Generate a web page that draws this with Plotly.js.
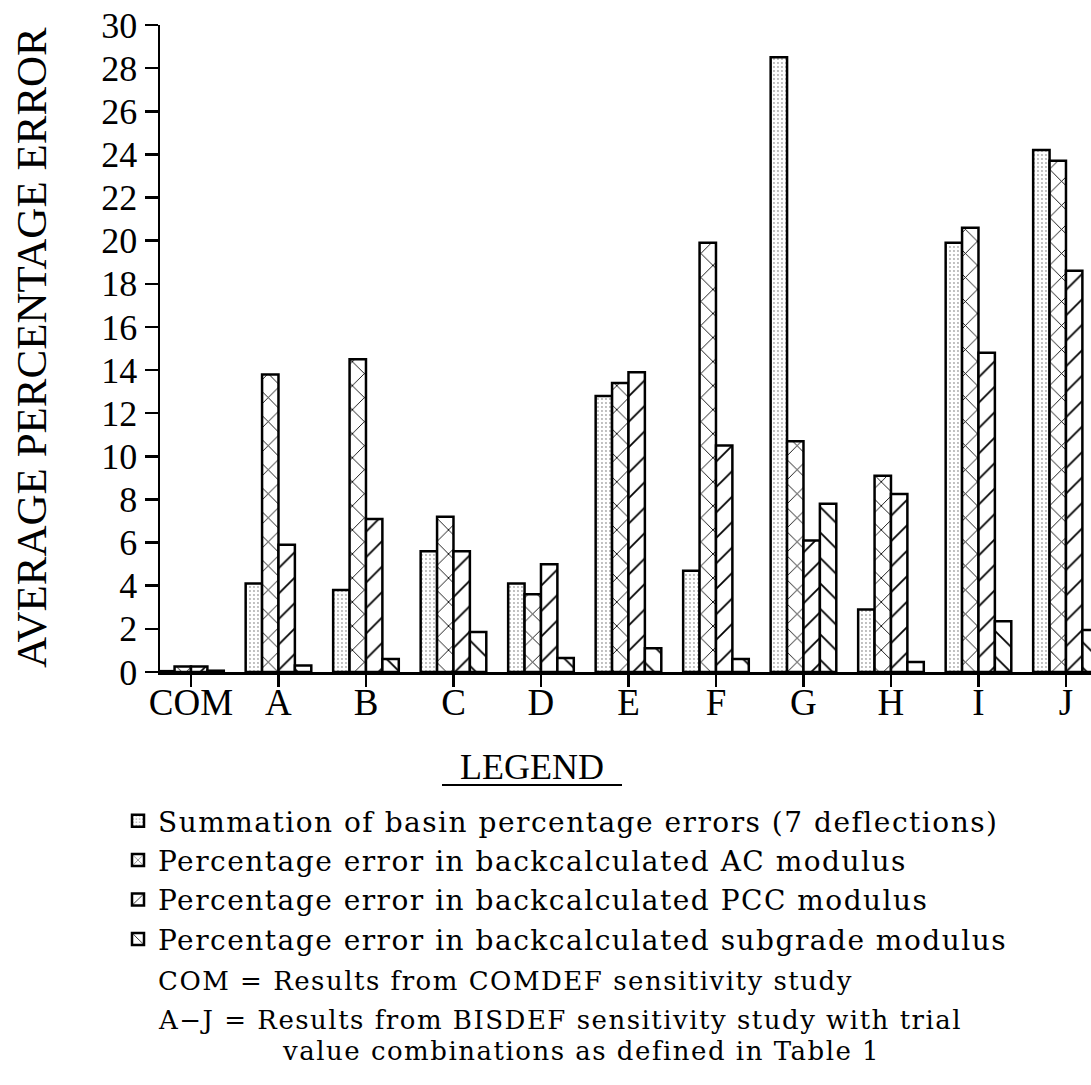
<!DOCTYPE html>
<html>
<head>
<meta charset="utf-8">
<script src="https://cdn.plot.ly/plotly-3.0.1.min.js"></script>
<style>html,body{margin:0;padding:0;background:#fff;}#chart{width:1091px;height:1085px;}</style>
</head>
<body>
<div id="chart"></div>
<script>
const categories = ['COM','A','B','C','D','E','F','G','H','I','J'];
const summation = [0.04, 4.1, 3.8, 5.6, 4.1, 12.8, 4.7, 28.5, 2.9, 19.9, 24.2];
const acModulus = [0.25, 13.8, 14.5, 7.2, 3.6, 13.4, 19.9, 10.7, 9.1, 20.6, 23.7];
const pccModulus = [0.25, 5.9, 7.1, 5.6, 5.0, 13.9, 10.5, 6.1, 8.25, 14.8, 18.6];
const subgradeModulus = [0.06, 0.3, 0.6, 1.85, 0.65, 1.1, 0.6, 7.8, 0.46, 2.35, 1.95];
const seriesNames = [
  'Summation of basin percentage errors (7 deflections)',
  'Percentage error in backcalculated AC modulus',
  'Percentage error in backcalculated PCC modulus',
  'Percentage error in backcalculated subgrade modulus'
];
const yTickVals = [0,2,4,6,8,10,12,14,16,18,20,22,24,26,28,30];
const yTitle = 'AVERAGE PERCENTAGE ERROR';
const legendTitle = 'LEGEND';
const noteLines = [
  'COM = Results from COMDEF sensitivity study',
  'A\u2212J = Results from BISDEF sensitivity study with trial',
  'value combinations as defined in Table 1'
];

const serif = 'Liberation Serif, Times New Roman, serif';
const legFont = 'DejaVu Serif, serif';
const sp = s => '<span style="letter-spacing:1.5px">' + s + '</span>';

function barTrace(vals, name, pat) {
  return {
    type: 'bar', x: categories, y: vals, name: sp(name),
    marker: {
      color: 'white',
      line: {color: 'black', width: 2.5},
      pattern: Object.assign({bgcolor: 'white', fillmode: 'replace'}, pat)
    },
    hoverinfo: 'skip'
  };
}

const data = [
  barTrace(summation, seriesNames[0], {shape: '.', size: 4, solidity: 0.18, fgcolor: '#aaa'}),
  barTrace(acModulus, seriesNames[1], {shape: 'x', size: 17, solidity: 0.1, fgcolor: 'black'}),
  barTrace(pccModulus, seriesNames[2], {shape: '/', size: 18, solidity: 0.1, fgcolor: 'black'}),
  barTrace(subgradeModulus, seriesNames[3], {shape: '\\', size: 18, solidity: 0.1, fgcolor: 'black'})
];

const W = 931, H = 647, L = 160, T = 25;
const px = x => (x - L) / W;
const py = y => (T + H - y) / H;

const layout = {
  width: 1091, height: 1085,
  margin: {l: L, r: 0, t: T, b: 1085 - T - H, pad: 0},
  paper_bgcolor: 'white', plot_bgcolor: 'white',
  barmode: 'group', bargap: 0.25, bargroupgap: 0,
  showlegend: true,
  legend: {
    x: px(118), y: py(796), xanchor: 'left', yanchor: 'top',
    font: {family: legFont, size: 28, color: 'black'},
    bgcolor: 'rgba(0,0,0,0)', borderwidth: 0, traceorder: 'normal'
  },
  xaxis: {
    type: 'category', categoryorder: 'array', categoryarray: categories,
    range: [-0.354, 10.286], fixedrange: true,
    showline: true, linecolor: 'black', linewidth: 3,
    ticks: 'outside', ticklen: 12, tickwidth: 2.5, tickcolor: 'black',
    ticklabelstandoff: -16,
    tickfont: {family: serif, size: 37, color: 'black'},
    showgrid: false, zeroline: false
  },
  yaxis: {
    range: [0, 30], tickmode: 'array', tickvals: yTickVals,
    showline: true, linecolor: 'black', linewidth: 2.5,
    ticks: 'outside', ticklen: 13, tickwidth: 2.5, tickcolor: 'black',
    tickfont: {family: serif, size: 36, color: 'black'},
    showgrid: false, zeroline: false, fixedrange: true
  },
  annotations: [
    {xref: 'paper', yref: 'paper', x: px(31), y: py(348), xanchor: 'center', yanchor: 'middle',
     text: yTitle, textangle: -90, showarrow: false, font: {family: serif, size: 43, color: 'black'}},
    {xref: 'paper', yref: 'paper', x: px(532), y: py(767), xanchor: 'center', yanchor: 'middle',
     text: legendTitle, showarrow: false, font: {family: serif, size: 36, color: 'black'}},
    {xref: 'paper', yref: 'paper', x: px(156), y: py(981), xanchor: 'left', yanchor: 'middle',
     text: sp(noteLines[0]), showarrow: false, font: {family: legFont, size: 26, color: 'black'}},
    {xref: 'paper', yref: 'paper', x: px(156), y: py(1020), xanchor: 'left', yanchor: 'middle',
     text: sp(noteLines[1]), showarrow: false, font: {family: legFont, size: 26, color: 'black'}},
    {xref: 'paper', yref: 'paper', x: px(280), y: py(1051), xanchor: 'left', yanchor: 'middle',
     text: sp(noteLines[2]), showarrow: false, font: {family: legFont, size: 26, color: 'black'}}
  ],
  shapes: [
    {type: 'line', xref: 'paper', yref: 'paper', x0: px(442), x1: px(622), y0: py(785), y1: py(785),
     line: {color: 'black', width: 2}}
  ]
};

Plotly.newPlot('chart', data, layout, {displayModeBar: false, staticPlot: true});
</script>
</body>
</html>
